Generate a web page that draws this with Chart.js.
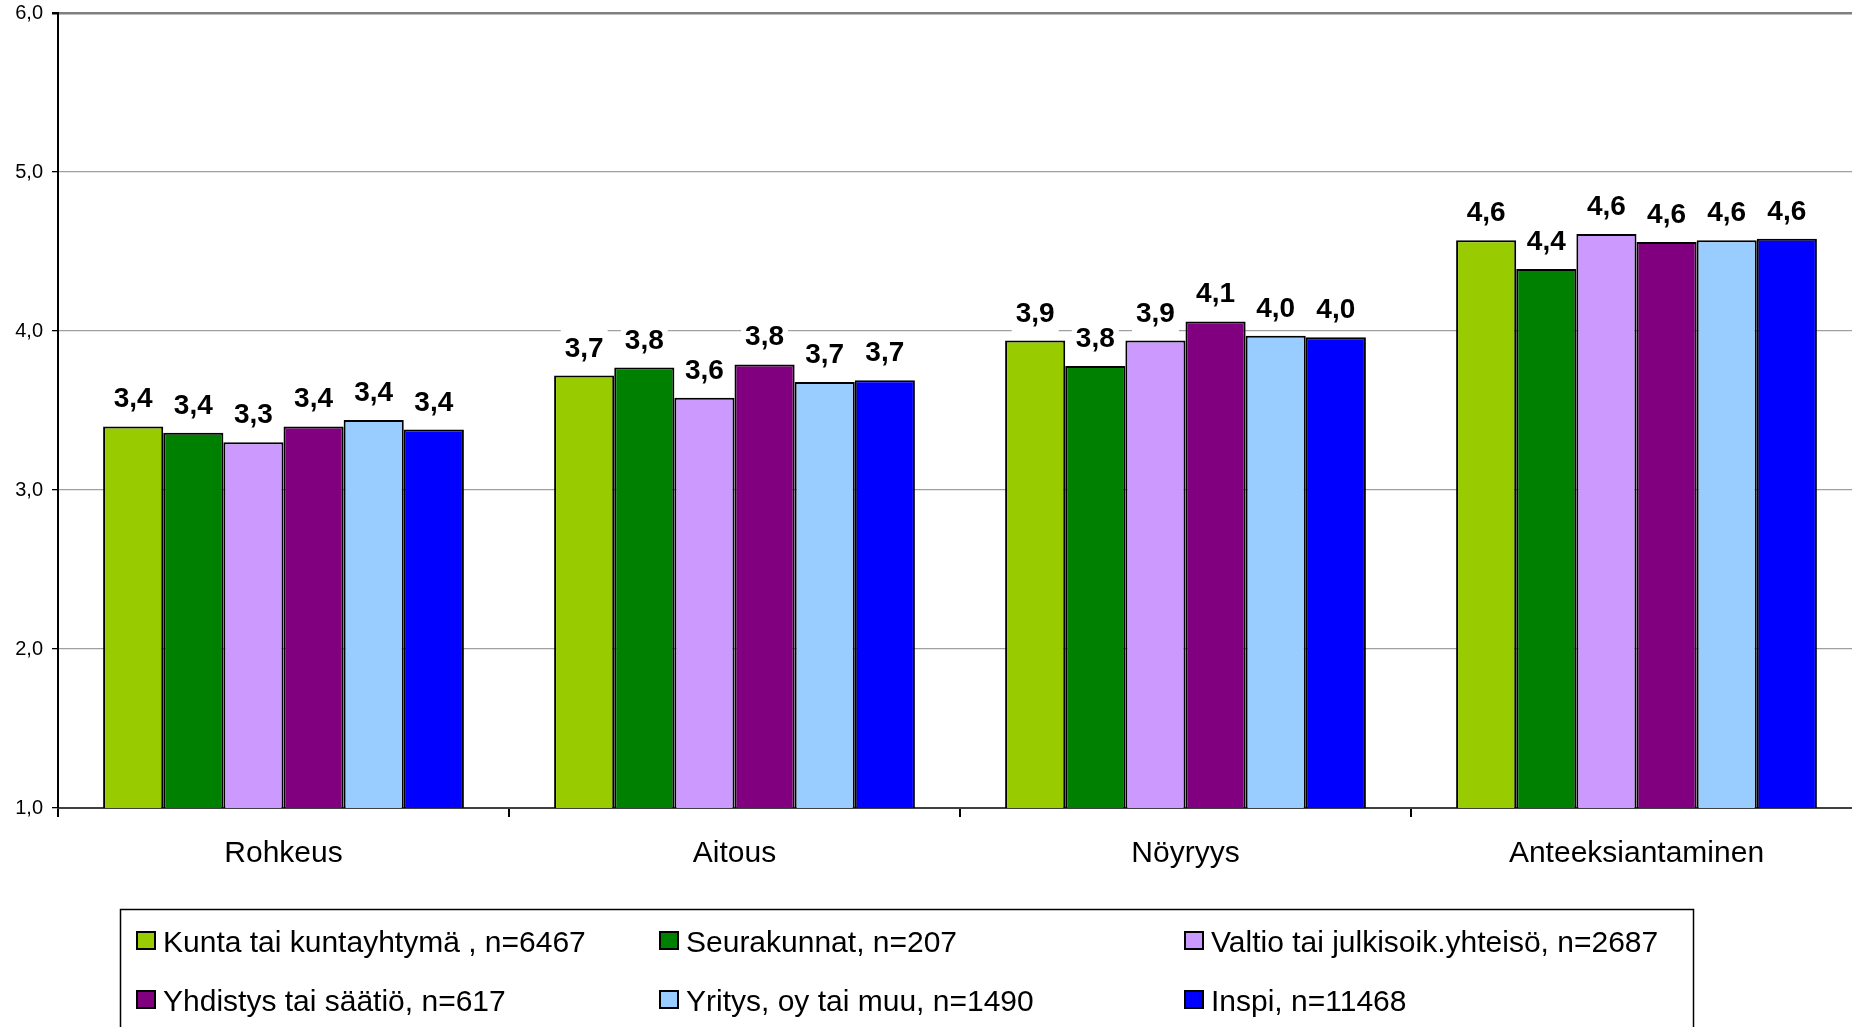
<!DOCTYPE html>
<html>
<head>
<meta charset="utf-8">
<script src="https://cdn.jsdelivr.net/npm/chart.js@4.4.1/dist/chart.umd.min.js"></script>
<style>
  html, body { margin: 0; padding: 0; background: #fff; overflow: hidden; width: 1852px; height: 1027px; }
  canvas { display: block; }
</style>
</head>
<body>
<canvas id="c" width="1862" height="1027" style="width:1862px;height:1027px"></canvas>
<script>
const categories = ['Rohkeus', 'Aitous', 'Nöyryys', 'Anteeksiantaminen'];
const seriesNames = [
  'Kunta tai kuntayhtymä , n=6467',
  'Seurakunnat, n=207',
  'Valtio tai julkisoik.yhteisö, n=2687',
  'Yhdistys tai säätiö, n=617',
  'Yritys, oy tai muu, n=1490',
  'Inspi, n=11468'
];
const kunta       = [3.40, 3.72, 3.94, 4.57];
const seurakunnat = [3.36, 3.77, 3.78, 4.39];
const valtio      = [3.30, 3.58, 3.94, 4.61];
const yhdistys    = [3.40, 3.79, 4.06, 4.56];
const yritys      = [3.44, 3.68, 3.97, 4.57];
const inspi       = [3.38, 3.69, 3.96, 4.58];
const yTicks = [1, 2, 3, 4, 5, 6];

const seriesValues = [kunta, seurakunnat, valtio, yhdistys, yritys, inspi];
const colors = ['#99cc00', '#008000', '#cc99ff', '#800080', '#99ccff', '#0000ff'];
const FONT = "'Liberation Sans', Arial, Helvetica, sans-serif";
Chart.defaults.font.family = FONT;
Chart.defaults.color = '#000';

const fmt = v => v.toFixed(1).replace('.', ',');

const valueLabels = {
  id: 'valueLabels',
  afterDatasetsDraw(chart) {
    const ctx = chart.ctx;
    ctx.save();
    ctx.font = 'bold 28px ' + FONT;
    ctx.textAlign = 'center';
    ctx.textBaseline = 'alphabetic';
    chart.data.datasets.forEach((ds, di) => {
      const meta = chart.getDatasetMeta(di);
      meta.data.forEach((bar, i) => {
        const txt = fmt(ds.data[i]);
        const w = ctx.measureText(txt).width;
        const yb = bar.y - 19;
        ctx.fillStyle = '#fff';
        ctx.fillRect(bar.x - w / 2 - 4, yb - 29, w + 8, 40);
        ctx.fillStyle = '#000';
        ctx.fillText(txt, bar.x, yb);
      });
    });
    ctx.restore();
  }
};

const boxLegend = {
  id: 'boxLegend',
  afterDraw(chart) {
    const ctx = chart.ctx;
    ctx.save();
    ctx.strokeStyle = '#000';
    ctx.lineWidth = 1.5;
    ctx.strokeRect(120.5, 909.5, 1573, 200);
    const colX = [136, 659, 1184];
    const rowY = [931, 990];
    ctx.font = '30px ' + FONT;
    ctx.textBaseline = 'middle';
    ctx.textAlign = 'left';
    chart.data.datasets.forEach((ds, i) => {
      const x = colX[i % 3];
      const y = rowY[Math.floor(i / 3)];
      ctx.fillStyle = ds.backgroundColor;
      ctx.fillRect(x, y, 20, 19);
      ctx.strokeStyle = '#000';
      ctx.lineWidth = 2;
      ctx.strokeRect(x + 1, y + 1, 18, 17);
      ctx.fillStyle = '#000';
      ctx.fillText(ds.label, x + 27, y + 12.5);
    });
    ctx.restore();
  }
};

new Chart(document.getElementById('c'), {
  type: 'bar',
  data: {
    labels: categories,
    datasets: seriesNames.map((name, i) => ({
      label: name,
      data: seriesValues[i],
      backgroundColor: colors[i],
      borderColor: '#000',
      borderWidth: 2,
      borderSkipped: 'start',
      categoryPercentage: 0.80,
      barPercentage: 1.0
    }))
  },
  options: {
    responsive: false,
    animation: false,
    devicePixelRatio: 1,
    layout: { padding: { top: 13, right: 0, bottom: 0, left: 0 } },
    plugins: { legend: { display: false }, tooltip: { enabled: false } },
    scales: {
      x: {
        offset: true,
        grid: {
          offset: true,
          drawOnChartArea: false,
          drawTicks: true,
          tickLength: 9,
          color: '#000',
          lineWidth: 2
        },
        border: { color: '#404040', width: 2 },
        ticks: { font: { size: 30 }, color: '#000', padding: 19 },
        afterFit(scale) { scale.height = 1027 - 808; }
      },
      y: {
        min: 1,
        max: 6,
        afterBuildTicks(scale) { scale.ticks = yTicks.map(v => ({ value: v })); },
        ticks: {
          font: { size: 20 },
          color: '#000',
          padding: 9,
          callback: v => fmt(v)
        },
        grid: {
          color: c => (c.tick && c.tick.value === 6) ? '#7f7f7f' : '#a0a0a0',
          lineWidth: c => (c.tick && c.tick.value === 6) ? 2.5 : 1.3,
          tickColor: '#000',
          tickLength: 6,
          drawTicks: true
        },
        border: { color: '#000', width: 2 },
        afterFit(scale) {
          scale.width = 58;
          scale.paddingTop = 0;
          scale.paddingBottom = 0;
        }
      }
    }
  },
  plugins: [valueLabels, boxLegend]
});
</script>
</body>
</html>
